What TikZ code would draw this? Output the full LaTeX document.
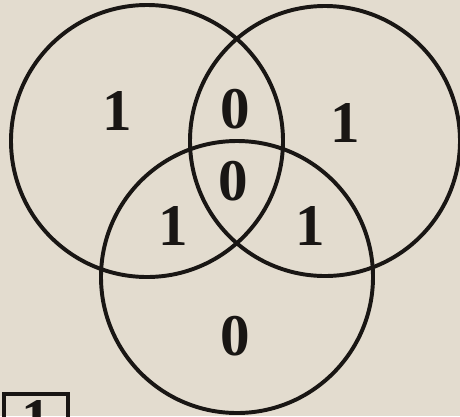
\documentclass[tikz,border=0pt]{standalone}
\usepackage{fontspec}
\setmainfont{Liberation Serif}
\usepackage{xcolor}
\usetikzlibrary{positioning}

\definecolor{paper}{RGB}{227,220,207}
\definecolor{ink}{RGB}{25,22,20}

\tikzset{
    ring/.style={draw=ink, line width=2.8pt},
    bit/.style={font=\fontsize{42}{42}\selectfont\bfseries, text=ink, inner sep=0pt},
    tagbox/.style={draw=ink, line width=2.8pt, minimum width=1.6cm, minimum height=1.3cm, inner sep=0pt, font=\fontsize{42}{42}\selectfont\bfseries, text=ink}
}

\begin{document}
\begin{tikzpicture}[x=0.025cm, y=-0.025cm]

% Background and frame
\useasboundingbox (0,0) rectangle (460,416);
\clip (0,0) rectangle (460,416);
\fill[paper] (0,0) rectangle (460,416);

% Three circles
\draw[ring] (147,141) circle (136);
\draw[ring] (325,141) circle (135);
\draw[ring] (237,277) circle (136);

% Region values
\node[bit] (onlyA) at (117,111) {1};
\node[bit] (AB) at (235,109) {0};
\node[bit] (onlyB) at (345,123) {1};
\node[bit] (ABC) at (233,181) {0};
\node[bit] (AC) at (173,226) {1};
\node[bit] (BC) at (310,226) {1};
\node[bit] (onlyC) at (235,336) {0};

% Boxed answer (cut by the page edge)
\node[tagbox] (answer) at (36,420) {1};

\end{tikzpicture}
\end{document}
